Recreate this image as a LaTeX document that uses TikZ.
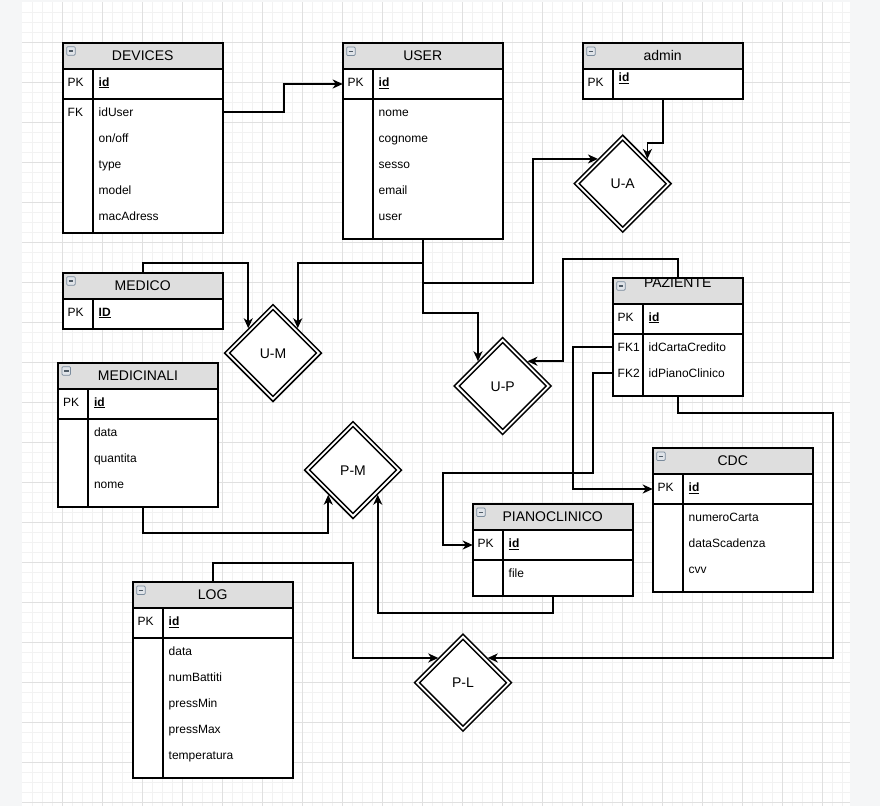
\documentclass[tikz,border=0pt]{standalone}
\usepackage{fontspec}
\setmainfont{Liberation Sans}
\usetikzlibrary{arrows.meta,shapes.geometric}
\definecolor{bgout}{HTML}{F5F6F7}
\definecolor{gridminor}{HTML}{F2F2F2}
\definecolor{gridmajor}{HTML}{E0E0E0}
\definecolor{hdrgray}{HTML}{DEDEDE}
\definecolor{iconfill}{HTML}{E0E4E9}
\definecolor{iconline}{HTML}{7A8B9C}
\definecolor{iconbar}{HTML}{4F5B66}
\tikzset{
  tblline/.style={draw=black, line width=1.8pt},
  attr/.style={anchor=west, inner sep=0pt, outer sep=0pt, text height=8.6pt, text depth=0pt, font=\fontsize{12}{14}\selectfont},
  ttl/.style={anchor=center, inner sep=0pt, text height=10pt, text depth=0pt, font=\fontsize{14}{16}\selectfont},
  rel/.style={diamond, aspect=1, draw=black, fill=white, double=white, double distance=1.8pt, line width=1.6pt,
    minimum width=94pt, minimum height=94pt, inner sep=0pt, outer sep=2.5pt,
    text height=10pt, text depth=0pt, font=\fontsize{14}{16}\selectfont},
  arr/.style={draw=black, line width=1.7pt, -{Stealth[length=10pt,width=9pt,inset=3pt]}},
  iconbox/.style={draw=iconline, fill=iconfill, line width=0.7pt, rounded corners=1pt},
  iconminus/.style={draw=iconbar, line width=1.3pt}
}
% #1 name, #2 x, #3 y, #4 width, #5 body height, #6 title, #7 pk field, #8 id y-offset, #9 title y-offset
\newcommand{\ertable}[9]{%
  \node[fill=white, draw=none, minimum width=#4pt, minimum height=56pt+#5pt, anchor=north west, inner sep=0pt, outer sep=0pt] (#1) at (#2,#3) {};
  \fill[hdrgray] (#1.north west) rectangle ++(#4,26);
  \draw[tblline] (#1.north west) rectangle (#1.south east);
  \draw[tblline] (#2,#3+26) -- ++(#4,0);
  \ifnum#5>0 \draw[tblline] (#2,#3+56) -- ++(#4,0);\fi
  \draw[tblline] (#2+30,#3+26) -- (#2+30,#3+56+#5);
  \draw[iconbox] (#2+4,#3+4) rectangle ++(8.5,8.5);
  \draw[iconminus] (#2+6,#3+8.25) -- ++(4.5,0);
  \node[ttl] (#1-t) at (#2+#4/2,#3+#9) {#6};
  \node[attr] (#1-pk) at (#2+5,#3+39) {PK};
  \node[attr] (#1-id) at (#2+36,#3+#8) {\underline{\textbf{#7}}};
  \coordinate (#1-pkrow) at (#2,#3+41);
}
% #1 name, #2 x, #3 y (table top), #4 list
\newcommand{\errows}[4]{%
  \foreach \rowtxt [count=\i] in {#4}{%
    \node[attr] (#1-a\i) at (#2+36,#3+69+26*\i-26) {\rowtxt};
  }%
}
\begin{document}
\begin{tikzpicture}[x=1pt,y=-1pt]
\useasboundingbox (0,0) rectangle (880,806);
\fill[bgout] (0,0) rectangle (880,806);
\fill[white] (22,2) rectangle (850,806);
\foreach \gx in {32,42,...,842} \draw[gridminor, line width=0.8pt] (\gx,2) -- (\gx,806);
\foreach \gy in {12,22,...,802} \draw[gridminor, line width=0.8pt] (22,\gy) -- (850,\gy);
\foreach \gx in {62,102,...,822} \draw[gridmajor, line width=0.8pt] (\gx,2) -- (\gx,806);
\foreach \gy in {42,82,...,802} \draw[gridmajor, line width=0.8pt] (22,\gy) -- (850,\gy);

% tables
\ertable{dev}{62.7}{42.7}{160}{134}{DEVICES}{id}{39}{12.5}
\errows{dev}{62.7}{42.7}{idUser,{on/off},type,model,macAdress}
\node[attr] (dev-fk) at (67.7,111.7) {FK};

\ertable{user}{342.7}{43}{160}{140}{USER}{id}{39}{12.5}
\errows{user}{342.7}{43}{nome,cognome,sesso,email,user}

\ertable{admin}{582.7}{43}{160}{0}{admin}{id}{34}{12.5}

\ertable{medico}{62.7}{272.7}{160}{0}{MEDICO}{ID}{39}{12.5}

\ertable{med}{58}{362.7}{160}{88}{MEDICINALI}{id}{39}{12.5}
\errows{med}{58}{362.7}{data,quantita,nome}

\ertable{paz}{612.7}{277.7}{130}{62}{PAZIENTE}{id}{39}{5}
\errows{paz}{612.7}{277.7}{idCartaCredito,idPianoClinico}
\node[attr] (paz-fk1) at (617.7,346.7) {FK1};
\node[attr] (paz-fk2) at (617.7,372.7) {FK2};

\ertable{cdc}{652.7}{448}{160}{88}{CDC}{id}{39}{12.5}
\errows{cdc}{652.7}{448}{numeroCarta,dataScadenza,cvv}

\ertable{pc}{472.7}{504}{160}{36}{PIANOCLINICO}{id}{39}{12.5}
\errows{pc}{472.7}{504}{file}

\ertable{log}{132.7}{582}{160}{140}{LOG}{id}{39}{12.5}
\errows{log}{132.7}{582}{data,numBattiti,pressMin,pressMax,temperatura}

% relationships
\node[rel] (ua) at (622.7,183.7) {U-A};
\node[rel] (um) at (273,353) {U-M};
\node[rel] (up) at (502.7,386) {U-P};
\node[rel] (pm) at (353,470) {P-M};
\node[rel] (pl) at (463,682.7) {P-L};

% connectors
\draw[arr] (dev.east |- dev-a1) -- ++(61,0) |- (user-pkrow);
\draw[arr] (admin.south) -- ++(0,44) -| (ua.north east);
\draw[arr] (user.south) -- ++(0,44) -- ++(110,0) |- (ua.north west);
\draw[arr] (user.south) -- ++(0,24) -| (um.north east);
\draw[arr] (user.south) -- ++(0,74) -| (up.north west);
\draw[arr] (medico.north) -- ++(0,-10) -| (um.north west);
\draw[arr] (paz.north) -- ++(0,-19) -- ++(-115,0) |- (up.north east);
\draw[arr] (paz.south) -- ++(0,17) -- ++(155,0) |- (pl.north east);
\draw[arr] (paz.west |- paz-a1) -- ++(-39.4,0) |- (cdc-pkrow);
\draw[arr] (paz.west |- paz-a2) -- ++(-19.4,0) -- ++(0,100) -- ++(-150.6,0) |- (pc-pkrow);
\draw[arr] ([xshift=5.3pt]med.south) -- ++(0,26) -| (pm.south west);
\draw[arr] (pc.south) -- ++(0,17) -| (pm.south east);
\draw[arr] (log.north) -- ++(0,-18.7) -- ++(140.6,0) |- (pl.north west);
\end{tikzpicture}
\end{document}
